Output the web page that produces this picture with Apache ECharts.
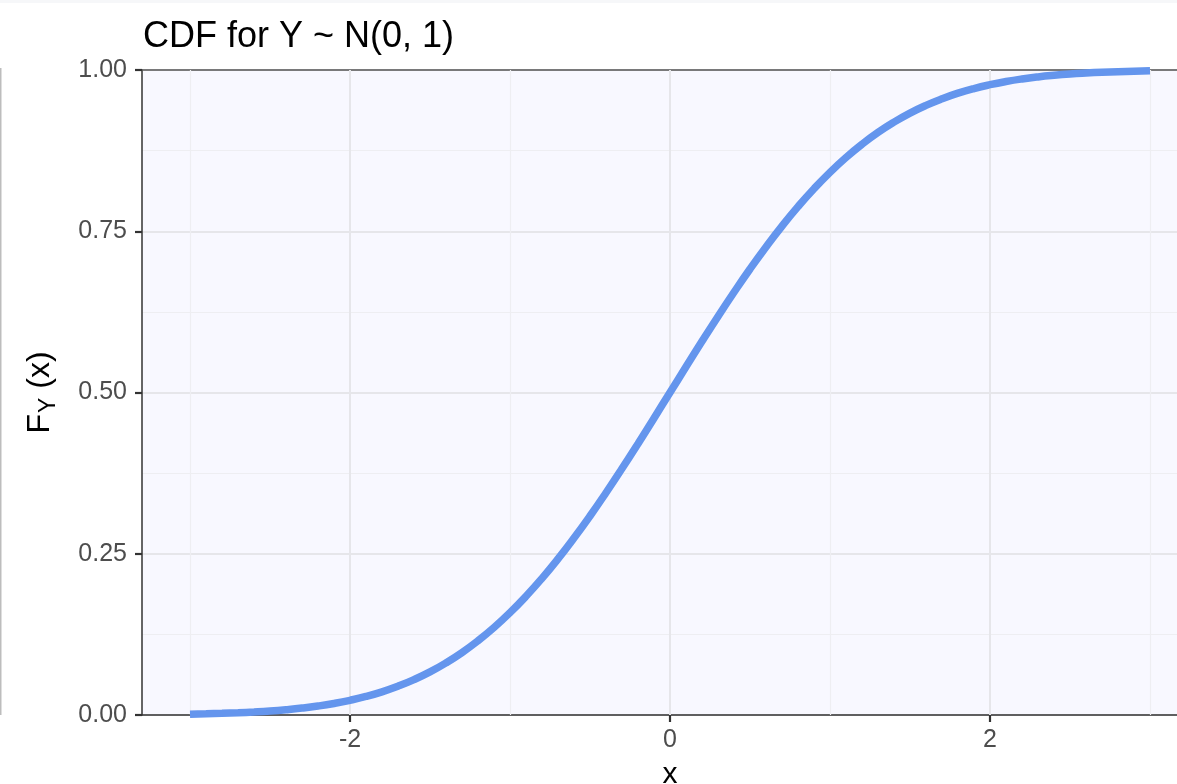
<!DOCTYPE html>
<html>
<head>
<meta charset="utf-8">
<script src="https://cdn.jsdelivr.net/npm/echarts@6/dist/echarts.min.js"></script>
<style>
html,body{margin:0;padding:0;background:#fff;}
#chart{width:1177px;height:784px;}
</style>
</head>
<body>
<div id="chart"></div>
<script>
// ---- data ----
const titleText = 'CDF for Y ~ N(0, 1)';
const xName = 'x';
const xValues = [-3.0,-2.9,-2.8,-2.7,-2.6,-2.5,-2.4,-2.3,-2.2,-2.1,-2.0,-1.9,-1.8,-1.7,-1.6,-1.5,-1.4,-1.3,-1.2,-1.1,-1.0,-0.9,-0.8,-0.7,-0.6,-0.5,-0.4,-0.3,-0.2,-0.1,0.0,0.1,0.2,0.3,0.4,0.5,0.6,0.7,0.8,0.9,1.0,1.1,1.2,1.3,1.4,1.5,1.6,1.7,1.8,1.9,2.0,2.1,2.2,2.3,2.4,2.5,2.6,2.7,2.8,2.9,3.0];
const cdfValues = [0.0013,0.0019,0.0026,0.0035,0.0047,0.0062,0.0082,0.0107,0.0139,0.0179,0.0228,0.0287,0.0359,0.0446,0.0548,0.0668,0.0808,0.0968,0.1151,0.1357,0.1587,0.1841,0.2119,0.2420,0.2743,0.3085,0.3446,0.3821,0.4207,0.4602,0.5000,0.5398,0.5793,0.6179,0.6554,0.6915,0.7257,0.7580,0.7881,0.8159,0.8413,0.8643,0.8849,0.9032,0.9192,0.9332,0.9452,0.9554,0.9641,0.9713,0.9772,0.9821,0.9861,0.9893,0.9918,0.9938,0.9953,0.9965,0.9974,0.9981,0.9987];
const xTickLabels = [-2, 0, 2];
const xMajorGrid = [-2, 0, 2];
const xMinorGrid = [-3, -1, 1, 3];
const yTicks = [0, 0.25, 0.5, 0.75, 1];

const FONT = 'Liberation Sans, Arial, Helvetica, sans-serif';
const chart = echarts.init(document.getElementById('chart'), null, {renderer: 'canvas'});

const lineData = xValues.map((x, i) => [x, cdfValues[i]]);
const gridMarks = [
  ...xMinorGrid.map(v => ({xAxis: v, lineStyle: {color: '#EEEEF2', width: 1.2, type: 'solid'}})),
  ...xMajorGrid.map(v => ({xAxis: v, lineStyle: {color: '#E6E6EA', width: 2, type: 'solid'}}))
];

const option = {
  animation: false,
  backgroundColor: '#ffffff',
  title: {
    text: titleText,
    left: 138,
    top: 14,
    textStyle: {fontFamily: FONT, fontSize: 36, fontWeight: 'normal', color: '#000'}
  },
  grid: {
    left: 142, right: -21, top: 70, bottom: 69,
    outerBoundsMode: 'none', containLabel: false,
    show: true, backgroundColor: '#F8F8FF', borderWidth: 0
  },
  xAxis: [{
    type: 'value', min: -3.3, max: 3.3, position: 'bottom',
    splitLine: {show: false},
    axisLine: {show: true, onZero: false, lineStyle: {color: '#333333', width: 1.5}},
    axisTick: {show: true, customValues: xTickLabels, length: 7, lineStyle: {color: '#333333', width: 2.2}},
    axisLabel: {customValues: xTickLabels, color: '#4D4D4D', fontSize: 25, fontFamily: FONT, margin: 13,
      formatter: v => String(v)},
    name: xName, nameLocation: 'middle', nameGap: 45,
    nameTextStyle: {fontFamily: FONT, fontSize: 30, color: '#000'}
  }, {
    type: 'value', min: -3.3, max: 3.3, position: 'top',
    splitLine: {show: false},
    axisLine: {show: true, onZero: false, lineStyle: {color: '#555555', width: 1.5}},
    axisTick: {show: false},
    axisLabel: {show: false}
  }],
  yAxis: {
    type: 'value', min: 0, max: 1, interval: 0.25,
    axisLine: {show: true, onZero: false, lineStyle: {color: '#333333', width: 1.5}},
    axisTick: {show: true, length: 7, lineStyle: {color: '#333333', width: 2.2}},
    axisLabel: {color: '#4D4D4D', fontSize: 25, fontFamily: FONT, margin: 15,
      formatter: v => yTicks.indexOf(v) >= 0 ? v.toFixed(2) : ''},
    splitLine: {show: true, lineStyle: {color: '#E6E6EA', width: 2}},
    minorTick: {show: false, splitNumber: 2},
    minorSplitLine: {show: true, lineStyle: {color: '#EEEEF2', width: 1.2}},
    name: '{a|F}{b|Y}{c|(x)}', nameLocation: 'middle', nameGap: 82, nameRotate: 90,
    nameTextStyle: {
      fontFamily: FONT, color: '#000',
      rich: {
        a: {fontFamily: FONT, fontSize: 32, color: '#000', lineHeight: 40, verticalAlign: 'middle'},
        b: {fontFamily: FONT, fontSize: 23, color: '#000', lineHeight: 40, verticalAlign: 'bottom', padding: [18, 9, 0, 1]},
        c: {fontFamily: FONT, fontSize: 32, color: '#000', lineHeight: 40, verticalAlign: 'middle'}
      }
    }
  },
  graphic: [
    {type: 'rect', shape: {x: 0, y: 0, width: 1177, height: 3}, style: {fill: '#F6F7F9'}, silent: true},
    {type: 'rect', shape: {x: 0, y: 68, width: 1.5, height: 647}, style: {fill: '#BDBDBD'}, silent: true}
  ],
  series: [
    {
      type: 'line', data: [], silent: true, z: 1,
      markLine: {silent: true, symbol: ['none', 'none'], label: {show: false}, animation: false,
        emphasis: {disabled: true}, data: gridMarks}
    },
    {
      type: 'line', data: lineData, showSymbol: false, smooth: true, z: 5, silent: true,
      lineStyle: {color: '#6495ED', width: 7.5, cap: 'butt'}
    }
  ]
};
chart.setOption(option);
</script>
</body>
</html>
